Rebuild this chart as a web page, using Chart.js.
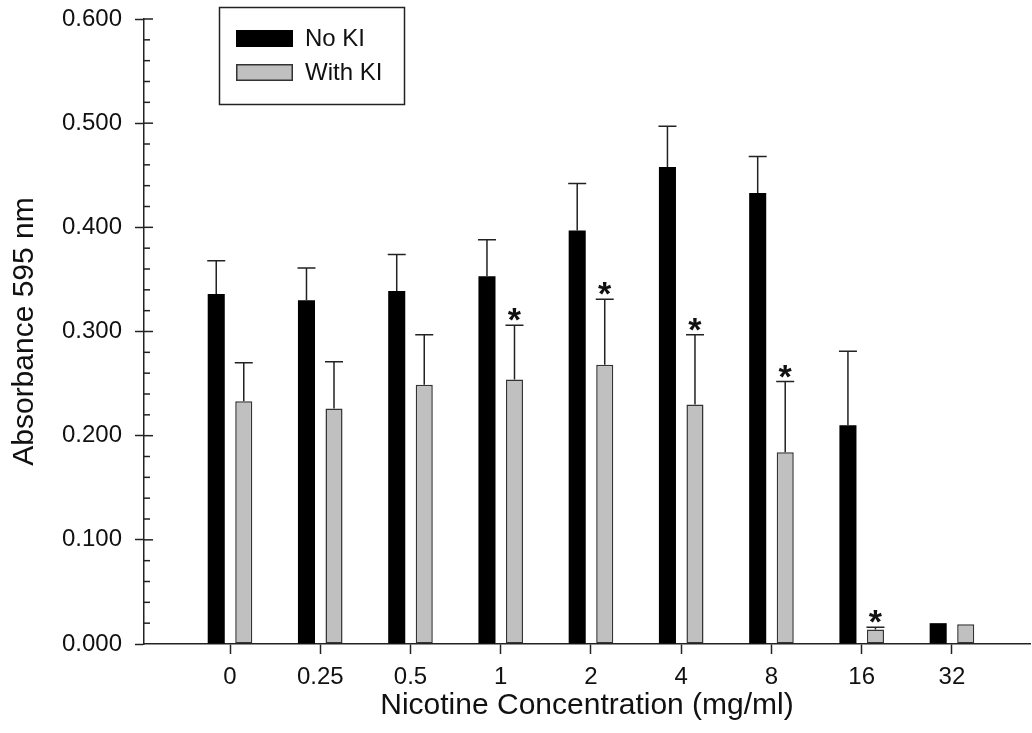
<!DOCTYPE html>
<html>
<head>
<meta charset="utf-8">
<script src="https://cdn.jsdelivr.net/npm/chart.js@4/dist/chart.umd.min.js"></script>
<style>
  body { margin: 0; background: #fff; }
  #wrap { width: 1032px; height: 733px; }
</style>
</head>
<body>
<div id="wrap"><canvas id="absChart"></canvas></div>
<script>
// concentrations (mg/ml) on the x axis
var categories = ['0', '0.25', '0.5', '1', '2', '4', '8', '16', '32'];
// mean absorbance at 595 nm
var noKI = [0.336, 0.330, 0.339, 0.353, 0.397, 0.458, 0.433, 0.210, 0.020];
var withKI = [0.233, 0.226, 0.249, 0.254, 0.268, 0.230, 0.184, 0.014, 0.019];
// upper error (SD)
var noKIErr = [0.032, 0.031, 0.035, 0.035, 0.045, 0.039, 0.035, 0.071, 0.000];
var withKIErr = [0.037, 0.045, 0.048, 0.052, 0.063, 0.067, 0.068, 0.002, 0.000];
// significant vs No KI
var withKIStar = [false, false, false, true, true, true, true, true, false];
var yTicks = [0, 0.1, 0.2, 0.3, 0.4, 0.5, 0.6];

var FONT = '"Liberation Sans", Arial, sans-serif';
var INK = '#111';

function pts(arr) {
  return arr.map(function (v, i) { return { x: i, y: v }; });
}

// error bars (upward only) + asterisks
var errorBars = {
  id: 'errorBars',
  afterDatasetsDraw: function (chart) {
    var ctx = chart.ctx;
    var y = chart.scales.y;
    ctx.save();
    ctx.strokeStyle = '#222';
    ctx.lineWidth = 1.5;
    chart.data.datasets.forEach(function (ds, di) {
      var meta = chart.getDatasetMeta(di);
      meta.data.forEach(function (bar, i) {
        var v = ds.data[i].y;
        var e = ds.errors[i];
        if (!e) return;
        var y0 = y.getPixelForValue(v);
        var y1 = y.getPixelForValue(v + e);
        ctx.beginPath();
        ctx.moveTo(bar.x, y0);
        ctx.lineTo(bar.x, y1);
        ctx.moveTo(bar.x - 9, y1);
        ctx.lineTo(bar.x + 9, y1);
        ctx.stroke();
        if (ds.stars && ds.stars[i]) {
          ctx.fillStyle = INK;
          ctx.font = 'bold 34px ' + FONT;
          ctx.textAlign = 'center';
          ctx.textBaseline = 'alphabetic';
          ctx.fillText('*', bar.x, y1 + 6);
        }
      });
    });
    ctx.restore();
  }
};

// minor ticks on y + inner half of major ticks
var yMinor = {
  id: 'yMinor',
  afterDraw: function (chart) {
    var ctx = chart.ctx;
    var y = chart.scales.y;
    var x0 = chart.chartArea.left;
    ctx.save();
    ctx.strokeStyle = '#222';
    ctx.lineWidth = 1.5;
    for (var k = 1; k <= 30; k++) {
      var py = y.getPixelForValue(k * 0.02);
      var len = (k % 5 === 0) ? 9 : 6;
      ctx.beginPath();
      ctx.moveTo(x0, py);
      ctx.lineTo(x0 + len, py);
      ctx.stroke();
    }
    ctx.restore();
  }
};

// boxed legend in the upper left
var boxLegend = {
  id: 'boxLegend',
  afterDraw: function (chart) {
    var ctx = chart.ctx;
    ctx.save();
    ctx.strokeStyle = '#222';
    ctx.lineWidth = 1.5;
    ctx.strokeRect(219.5, 7.5, 185, 97);
    var rows = [30, 64];
    chart.data.datasets.forEach(function (ds, di) {
      var ty = rows[di];
      ctx.fillStyle = ds.backgroundColor;
      ctx.fillRect(236, ty, 57, 17);
      ctx.lineWidth = 1.5;
      ctx.strokeStyle = di === 0 ? '#000' : '#333';
      ctx.strokeRect(236.75, ty + 0.75, 55.5, 15.5);
      ctx.fillStyle = INK;
      ctx.font = '24px ' + FONT;
      ctx.textAlign = 'left';
      ctx.textBaseline = 'middle';
      ctx.fillText(ds.label, 305, ty + 9);
    });
    ctx.restore();
  }
};

new Chart(document.getElementById('absChart'), {
  type: 'bar',
  data: {
    datasets: [{
      label: 'No KI',
      data: pts(noKI),
      errors: noKIErr,
      backgroundColor: '#000000',
      borderColor: '#000000',
      borderWidth: 0
    }, {
      label: 'With KI',
      data: pts(withKI),
      errors: withKIErr,
      stars: withKIStar,
      backgroundColor: '#c0c0c0',
      borderColor: '#333333',
      borderWidth: 1.5,
      borderSkipped: false
    }]
  },
  options: {
    responsive: true,
    maintainAspectRatio: false,
    animation: false,
    categoryPercentage: 0.61,
    barPercentage: 0.62,
    layout: { padding: { top: 19, right: 2, left: 0, bottom: 0 } },
    plugins: {
      legend: { display: false },
      tooltip: { enabled: false }
    },
    scales: {
      x: {
        type: 'linear',
        offset: false,
        min: -0.953,
        max: 8.865,
        afterBuildTicks: function (scale) {
          scale.ticks = categories.map(function (c, i) { return { value: i }; });
        },
        afterFit: function (scale) {
          scale.height = 89;
          scale.paddingLeft = 0;
          scale.paddingRight = 0;
        },
        ticks: {
          color: INK,
          font: { family: FONT, size: 24 },
          padding: 9,
          maxRotation: 0,
          autoSkip: false,
          callback: function (v) { return categories[v]; }
        },
        grid: { offset: false, drawOnChartArea: false, tickLength: 10, tickWidth: 1.5, tickColor: '#222' },
        border: { color: '#222', width: 1.5 },
        title: {
          display: true,
          text: 'Nicotine Concentration (mg/ml)',
          color: INK,
          font: { family: FONT, size: 30 },
          padding: { top: 0, bottom: 9 }
        }
      },
      y: {
        min: 0,
        max: 0.6,
        afterBuildTicks: function (scale) {
          scale.ticks = yTicks.map(function (v) { return { value: v }; });
        },
        afterFit: function (scale) {
          scale.width = 144;
          scale.paddingTop = 0;
          scale.paddingBottom = 0;
        },
        ticks: {
          color: INK,
          font: { family: FONT, size: 24 },
          padding: 13,
          callback: function (v) { return v.toFixed(3); }
        },
        grid: { drawOnChartArea: false, tickLength: 9, tickWidth: 1.5, tickColor: '#222' },
        border: { color: '#222', width: 1.5 },
        title: {
          display: true,
          text: 'Absorbance 595 nm',
          color: INK,
          font: { family: FONT, size: 30 },
          padding: { top: 7, bottom: 0 }
        }
      }
    }
  },
  plugins: [errorBars, yMinor, boxLegend]
});
</script>
</body>
</html>
